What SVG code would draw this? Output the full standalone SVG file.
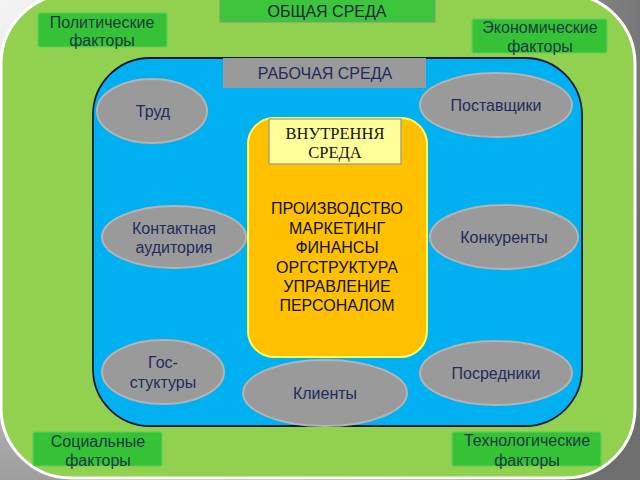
<svg xmlns="http://www.w3.org/2000/svg" width="640" height="480" viewBox="0 0 640 480">
<defs>
<radialGradient id="bg" cx="0" cy="0" r="680" gradientUnits="userSpaceOnUse">
<stop offset="0" stop-color="#f4f4f4"/>
<stop offset="0.45" stop-color="#c8c8c8"/>
<stop offset="1" stop-color="#6e6e6e"/>
</radialGradient>
<style>
.sans{font-family:"Liberation Sans",Arial,sans-serif}
.factor rect{fill:#36c236;stroke:#5fcf5f;stroke-width:1}
.factor text{fill:#1c3b40;font-size:16px;text-anchor:middle;font-family:"Liberation Sans",Arial,sans-serif}
.ell ellipse{fill:#9a9a9a;stroke:#b4b4b4;stroke-width:2}
.ell text{fill:#1f2c5c;font-size:16px;text-anchor:middle;font-family:"Liberation Sans",Arial,sans-serif}
.inner text{fill:#111;font-size:16px;text-anchor:middle;font-family:"Liberation Sans",Arial,sans-serif}
.inner text.serif{font-family:"Liberation Serif","Times New Roman",serif;font-size:16.5px}
</style>
</defs>
<rect x="0" y="0" width="640" height="480" fill="url(#bg)"/>
<g id="general-env">
<rect x="1" y="-6" width="634" height="484" rx="70" ry="70" fill="#92d050" stroke="#ffffff" stroke-width="3"/>
<rect x="220" y="-1" width="215" height="23" fill="#3cc43c" stroke="#7a9a7a" stroke-width="1"/>
<text x="327" y="17" class="sans" font-size="16" fill="#1a2a3a" text-anchor="middle">ОБЩАЯ СРЕДА</text>
</g>
<g id="political" class="factor">
<rect x="38" y="13" width="129" height="34" rx="2"/>
<text x="102" y="28">Политические</text>
<text x="102" y="46">факторы</text>
</g>
<g id="economic" class="factor">
<rect x="472" y="19" width="135" height="34" rx="2"/>
<text x="540" y="33">Экономические</text>
<text x="540" y="52">факторы</text>
</g>
<g id="social" class="factor">
<rect x="33" y="432" width="129" height="34" rx="2"/>
<text x="98" y="447">Социальные</text>
<text x="98" y="466">факторы</text>
</g>
<g id="technological" class="factor">
<rect x="452" y="432" width="149" height="34" rx="2"/>
<text x="527" y="446">Технологические</text>
<text x="527" y="466">факторы</text>
</g>
<g id="work-env">
<rect x="93" y="58" width="489" height="368" rx="57" ry="57" fill="#00b0f0" stroke="#0a1a3a" stroke-width="1.8"/>
<rect x="223" y="58" width="203" height="30" fill="#9a9a9a"/>
<text x="325" y="79" class="sans" font-size="16" fill="#1f2c5c" text-anchor="middle">РАБОЧАЯ СРЕДА</text>
</g>
<g id="labor" class="ell"><ellipse cx="152" cy="111" rx="55" ry="32"/><text x="153" y="117">Труд</text></g>
<g id="suppliers" class="ell"><ellipse cx="496" cy="105" rx="76" ry="32"/><text x="496" y="111">Поставщики</text></g>
<g id="contact" class="ell"><ellipse cx="174" cy="237" rx="72" ry="31"/><text x="174" y="234">Контактная</text><text x="174" y="253">аудитория</text></g>
<g id="competitors" class="ell"><ellipse cx="504" cy="237" rx="74" ry="32"/><text x="504" y="243">Конкуренты</text></g>
<g id="gov" class="ell"><ellipse cx="163" cy="372" rx="61" ry="32"/><text x="163" y="368">Гос-</text><text x="163" y="388">стуктуры</text></g>
<g id="clients" class="ell"><ellipse cx="325" cy="393" rx="82" ry="33"/><text x="325" y="399">Клиенты</text></g>
<g id="intermediaries" class="ell"><ellipse cx="496" cy="373" rx="76" ry="32"/><text x="496" y="379">Посредники</text></g>
<g id="internal" class="inner">
<rect x="248" y="118" width="179" height="239" rx="26" ry="26" fill="#ffc000" stroke="#ffff66" stroke-width="2"/>
<rect x="269" y="119" width="132" height="45" fill="#ffff99" stroke="#9a9a7a" stroke-width="1.2"/>
<text class="serif" x="335" y="139">ВНУТРЕННЯ</text>
<text class="serif" x="335" y="158">СРЕДА</text>
<text x="337" y="214">ПРОИЗВОДСТВО</text>
<text x="337" y="234">МАРКЕТИНГ</text>
<text x="337" y="253">ФИНАНСЫ</text>
<text x="337" y="273">ОРГСТРУКТУРА</text>
<text x="337" y="292">УПРАВЛЕНИЕ</text>
<text x="337" y="311">ПЕРСОНАЛОМ</text>
</g>
</svg>
